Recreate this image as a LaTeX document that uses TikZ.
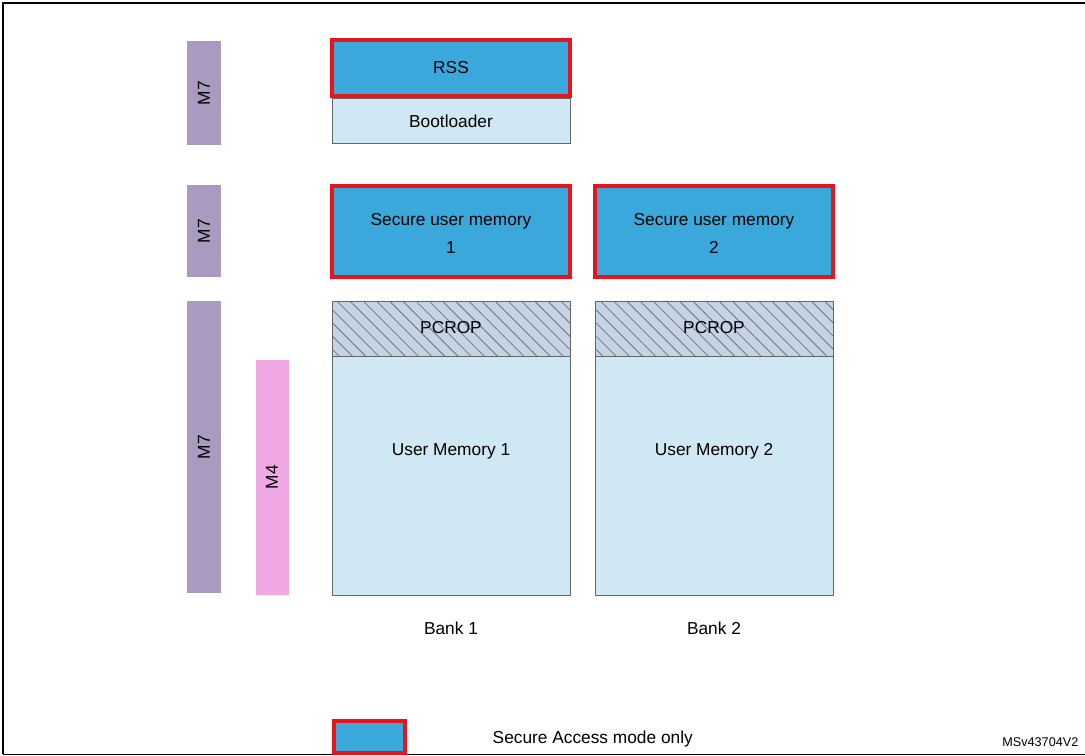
\documentclass[tikz,border=0pt]{standalone}
\usepackage{fontspec}
\setmainfont{Liberation Sans}
\usetikzlibrary{patterns.meta}
\definecolor{coreM7}{HTML}{A99BC0}
\definecolor{coreM4}{HTML}{F0A8E4}
\definecolor{secblue}{HTML}{3BA8DC}
\definecolor{memblue}{HTML}{CFE8F4}
\definecolor{pcropblue}{HTML}{C5D3E6}
\definecolor{secred}{HTML}{E8141C}
\tikzset{
  core/.style={draw=none},
  secure/.style={draw=secred, line width=2.6pt, fill=secblue},
  mem/.style={draw=black!60, fill=memblue},
  pcrop/.style={draw=black!60, preaction={fill=pcropblue},
    pattern={Lines[angle=-45,distance=7pt,line width=0.6pt]}, pattern color=black!55},
  lbl/.style={font=\fontsize{13}{21}\selectfont, align=center}
}
\begin{document}
\begin{tikzpicture}
[x=0.0264cm, y=-0.0264cm]
  \useasboundingbox (0,0) rectangle (1085,755);
  \draw[line width=1pt] (3,754) -- (3,3) -- (1085,3);
  \draw[line width=0.6pt] (3,754) -- (1085,754);

  % cores
  \fill[coreM7] (187,41) rectangle (221,145);
  \fill[coreM7] (187,185) rectangle (221,277);
  \fill[coreM7] (187,301) rectangle (221,593);
  \fill[coreM4] (256,360) rectangle (289,595);
  \node[lbl, rotate=90] (m7a) at (204,93) {M7};
  \node[lbl, rotate=90] (m7b) at (204,231) {M7};
  \node[lbl, rotate=90] (m7c) at (204,447) {M7};
  \node[lbl, rotate=90] (m4) at (272,477) {M4};

  % bank 1
  \draw[mem] (332,98) rectangle (570,143);
  \node[lbl] (boot) at (451,121) {Bootloader};
  \draw[secure] (332,40) rectangle (570,96);
  \node[lbl] (rss) at (451,68) {RSS};
  \draw[secure] (332,186) rectangle (570,277);
  \node[lbl] (sum1) at (451,233) {Secure user memory\\1};
  \draw[mem] (332,356) rectangle (570,595);
  \node[lbl] (um1) at (451,451) {User Memory 1};
  \draw[pcrop] (332,301) rectangle (570,356);
  \node[lbl] (pcrop1) at (451,328) {PCROP};
  \node[lbl] (bank1) at (451,628) {Bank 1};

  % bank 2
  \draw[secure] (595,186) rectangle (833,277);
  \node[lbl] (sum2) at (714,233) {Secure user memory\\2};
  \draw[mem] (595,356) rectangle (833,595);
  \node[lbl] (um2) at (714,451) {User Memory 2};
  \draw[pcrop] (595,301) rectangle (833,356);
  \node[lbl] (pcrop2) at (714,328) {PCROP};
  \node[lbl] (bank2) at (714,628) {Bank 2};

  % legend
  \draw[secure] (334,721) rectangle (405,753);
  \node[lbl, anchor=west] (legend) at (488,739) {Secure Access mode only};
  \node[font=\fontsize{9.5}{11}\selectfont, anchor=east] (ref) at (1083,742) {MSv43704V2};
\end{tikzpicture}
\end{document}
